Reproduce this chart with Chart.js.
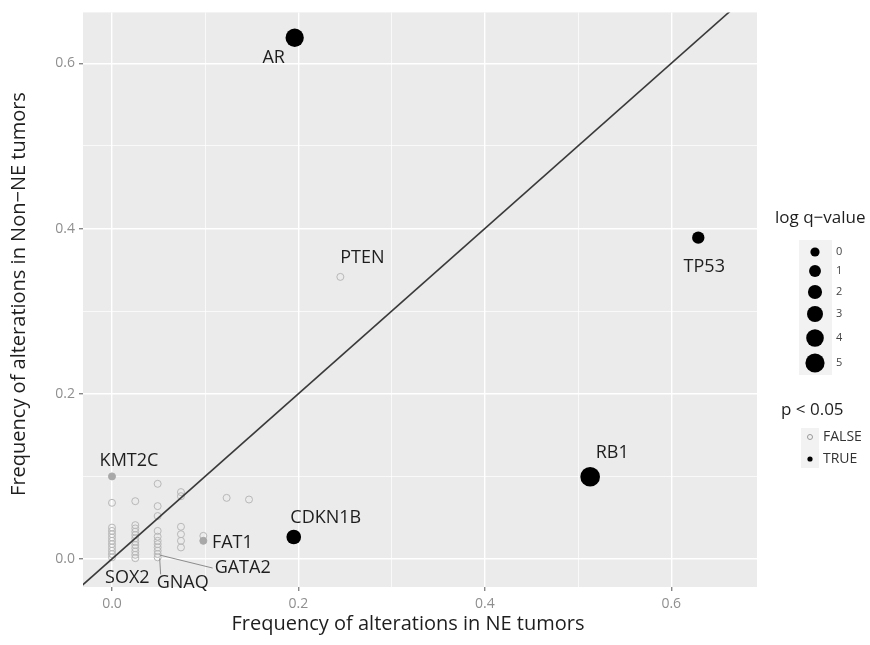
<!DOCTYPE html>
<html>
  <head>
    <title>NE vs Non-NE alteration frequency</title>
    <script src="https://cdn.jsdelivr.net/npm/chart.js"></script>
    <style>
      body { margin: 0; background: #fff; }
      #wrap { width: 870px; height: 645px; }
    </style>
  </head>
  <body>
    <div id="wrap"><canvas id="scatter" width="870" height="645"></canvas></div>
    <script>
      // significant genes (p < 0.05), drawn black and sized by log q-value
      var sigGenes = ["AR", "TP53", "RB1", "CDKN1B"];
      var sigX = [0.196, 0.629, 0.513, 0.195];
      var sigY = [0.631, 0.389, 0.0996, 0.0266];
      var sigLogQ = [4.4, 1.2, 5.3, 2.3];

      // non significant genes (open grey circles)
      var nsX = [0, 0, 0, 0, 0, 0, 0, 0, 0, 0, 0,
        0.025, 0.025, 0.025, 0.025, 0.025, 0.025, 0.025, 0.025, 0.025, 0.025, 0.025, 0.025,
        0.049, 0.049, 0.049, 0.049, 0.049, 0.049, 0.049, 0.049, 0.049, 0.049, 0.049,
        0.074, 0.074, 0.074, 0.074, 0.074, 0.074,
        0.098, 0.123, 0.147, 0.245];
      var nsY = [0.068, 0.038, 0.034, 0.030, 0.026, 0.022, 0.018, 0.014, 0.010, 0.006, 0.002,
        0.070, 0.041, 0.037, 0.033, 0.029, 0.025, 0.021, 0.017, 0.013, 0.009, 0.005, 0.001,
        0.091, 0.064, 0.052, 0.034, 0.027, 0.022, 0.018, 0.014, 0.010, 0.006, 0.002,
        0.081, 0.076, 0.039, 0.030, 0.022, 0.014,
        0.028, 0.074, 0.072, 0.3415];

      // grey filled ones
      var greyX = [0, 0.098];
      var greyY = [0.100, 0.022];

      // gene labels: name and the point it belongs to
      var labelNames = ["AR", "TP53", "RB1", "CDKN1B", "PTEN", "KMT2C", "FAT1", "GATA2", "GNAQ", "SOX2"];
      var labelX = [0.196, 0.629, 0.513, 0.195, 0.245, 0, 0.098, 0.049, 0.049, 0.025];
      var labelY = [0.631, 0.389, 0.0996, 0.0266, 0.3415, 0.100, 0.022, 0.006, 0.002, 0.001];
      // pixel offsets of label centre from the point, and whether a segment joins them
      var labelOffsets = [[-21, 20], [6, 29], [22, -24], [32, -19], [22, -19], [17, -16], [29, 2], [85, 14], [25, 26], [-8, 20]];
      var labelLeader = [false, false, false, false, false, false, false, true, true, false];

      var xTicks = [0, 0.2, 0.4, 0.6];
      var yTicks = [0, 0.2, 0.4, 0.6];
      var minorTicks = [0.1, 0.3, 0.5];
      var diagonal = [-0.1, 0.8];
      var legendLevels = [0, 1, 2, 3, 4, 5];

      var FONT = "'Open Sans', sans-serif";

      function sizeFor(q) {
        var r0 = 4.6, r5 = 9.6;
        return Math.sqrt(r0 * r0 + (r5 * r5 - r0 * r0) * q / 5);
      }

      function isMajor(v) {
        return xTicks.some(function (t) { return Math.abs(t - v) < 1e-6; });
      }

      function allTicks() {
        return xTicks.concat(minorTicks).sort(function (a, b) { return a - b; })
          .map(function (v) { return { value: v }; });
      }

      var panelBg = {
        id: "panelBg",
        beforeDraw: function (chart) {
          var a = chart.chartArea, c = chart.ctx;
          c.save();
          c.fillStyle = "#ebebeb";
          c.fillRect(a.left, a.top, a.right - a.left, a.bottom - a.top);
          c.restore();
        },
      };

      var annotations = {
        id: "annotations",
        afterDraw: function (chart) {
          var c = chart.ctx, xs = chart.scales.x, ys = chart.scales.y;
          c.save();
          // gene labels
          c.font = "18px " + FONT;
          c.textAlign = "center";
          c.textBaseline = "middle";
          labelNames.forEach(function (name, i) {
            var px = xs.getPixelForValue(labelX[i]);
            var py = ys.getPixelForValue(labelY[i]);
            var tx = px + labelOffsets[i][0];
            var ty = py + labelOffsets[i][1];
            var w = c.measureText(name).width;
            if (labelLeader[i]) {
              c.strokeStyle = "#8c8c8c";
              c.lineWidth = 1;
              c.beginPath();
              c.moveTo(px + 2, py + 1);
              if (name == "GNAQ") c.lineTo(tx - w / 2 + 4, ty - 9);
              else c.lineTo(tx - w / 2 - 2, ty);
              c.stroke();
            }
            c.fillStyle = "#1e1e1e";
            c.fillText(name, tx, ty);
          });

          // axis titles
          c.fillStyle = "#1e1e1e";
          c.font = "20px " + FONT;
          c.fillText("Frequency of alterations in NE tumors", 408, 624);
          c.save();
          c.translate(19, 294);
          c.rotate(-Math.PI / 2);
          c.fillText("Frequency of alterations in Non\u2212NE tumors", 0, 0);
          c.restore();

          // legend: log q-value
          c.font = "17px " + FONT;
          c.textAlign = "left";
          c.fillText("log q\u2212value", 775, 218);
          var keyY = [252, 271, 292, 314, 338, 363];
          c.fillStyle = "#f2f2f2";
          c.fillRect(799, 240, 33, 135);
          legendLevels.forEach(function (q, i) {
            c.fillStyle = "#000";
            c.beginPath();
            c.arc(815, keyY[i], sizeFor(q), 0, Math.PI * 2);
            c.fill();
            c.fillStyle = "#444";
            c.font = "11px " + FONT;
            c.fillText(String(q), 836, keyY[i]);
          });

          // legend: p < 0.05
          c.font = "17px " + FONT;
          c.fillStyle = "#1e1e1e";
          c.fillText("p < 0.05", 781, 410);
          c.fillStyle = "#f2f2f2";
          c.fillRect(801, 428, 18, 40);
          c.strokeStyle = "#999";
          c.lineWidth = 1;
          c.beginPath();
          c.arc(810, 437, 2.5, 0, Math.PI * 2);
          c.stroke();
          c.fillStyle = "#000";
          c.beginPath();
          c.arc(810, 459, 2.6, 0, Math.PI * 2);
          c.fill();
          c.fillStyle = "#333";
          c.font = "14px " + FONT;
          c.fillText("FALSE", 823, 437);
          c.fillText("TRUE", 823, 459);
          c.restore();
        },
      };

      function pts(xa, ya) {
        return xa.map(function (x, i) { return { x: x, y: ya[i] }; });
      }

      var ctx = document.getElementById("scatter").getContext("2d");
      var chart = new Chart(ctx, {
        type: "scatter",
        data: {
          datasets: [
            {
              type: "line",
              data: diagonal.map(function (v) { return { x: v, y: v }; }),
              borderColor: "#3a3a3a",
              borderWidth: 1.6,
              pointRadius: 0,
              order: 1,
            },
            {
              data: pts(nsX, nsY),
              pointRadius: 3.5,
              pointBackgroundColor: "rgba(0,0,0,0)",
              pointBorderColor: "#b8b8b8",
              pointBorderWidth: 1,
              order: 3,
            },
            {
              data: pts(greyX, greyY),
              pointRadius: 3.5,
              pointBackgroundColor: "#a8a8a8",
              pointBorderColor: "#a8a8a8",
              pointBorderWidth: 1,
              order: 2,
            },
            {
              data: pts(sigX, sigY),
              pointRadius: function (c) { return sizeFor(sigLogQ[c.dataIndex]); },
              pointBackgroundColor: "#000",
              pointBorderColor: "#000",
              pointBorderWidth: 0,
              order: 0,
            },
          ],
        },
        options: {
          responsive: false,
          animation: false,
          layout: { padding: { left: 0, top: 12, right: 113, bottom: 0 } },
          plugins: { legend: { display: false }, tooltip: { enabled: false } },
          scales: {
            x: {
              type: "linear",
              min: -0.0311,
              max: 0.692,
              afterBuildTicks: function (s) { s.ticks = allTicks(); },
              afterFit: function (s) { s.height = 58; },
              border: { display: false },
              grid: {
                color: "#ffffff",
                lineWidth: function (c) { return isMajor(c.tick.value) ? 1.4 : 0.7; },
                tickColor: function (c) { return isMajor(c.tick.value) ? "#888" : "rgba(0,0,0,0)"; },
                tickLength: 4,
              },
              ticks: {
                color: "#8f8f8f",
                font: { size: 14, family: FONT },
                padding: 5,
                maxRotation: 0,
                autoSkip: false,
                callback: function (v) { return isMajor(v) ? v.toFixed(1) : ""; },
              },
            },
            y: {
              type: "linear",
              min: -0.0339,
              max: 0.6617,
              afterBuildTicks: function (s) { s.ticks = allTicks(); },
              afterFit: function (s) { s.width = 83; },
              border: { display: false },
              grid: {
                color: "#ffffff",
                lineWidth: function (c) { return isMajor(c.tick.value) ? 1.4 : 0.7; },
                tickColor: function (c) { return isMajor(c.tick.value) ? "#888" : "rgba(0,0,0,0)"; },
                tickLength: 4,
              },
              ticks: {
                color: "#8f8f8f",
                font: { size: 14, family: FONT },
                padding: 4,
                autoSkip: false,
                callback: function (v) { return isMajor(v) ? v.toFixed(1) : ""; },
              },
            },
          },
        },
        plugins: [panelBg, annotations],
      });
    </script>
  </body>
</html>
